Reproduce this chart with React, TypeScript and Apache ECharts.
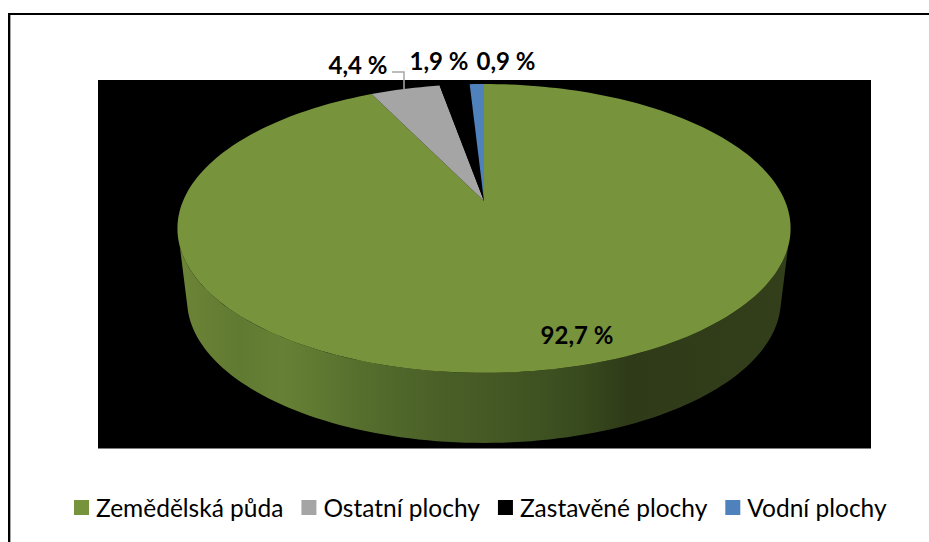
import React, { useEffect, useRef } from "react";
import * as echarts from "echarts";

const categories = ["Zemědělská půda", "Ostatní plochy", "Zastavěné plochy", "Vodní plochy"];
const shares = [92.7, 4.4, 1.9, 0.9];
const sliceColors = ["#77933c", "#a5a5a5", "#000000", "#4f81bd"];

// Layout and projection of the tilted disc (kept apart from the data)
const labelAnchors = [
  [577, 334],
  [358, 64],
  [439, 60],
  [506, 60],
];
const TILT = 0.19;
const topDisc = { cx: 484, cy: 201, a: 301, b: 139.2 };
const baseDisc = { cx: 484, cy: 272.8, a: 291.5, b: 137.8 };
const FONT = "Lato, 'Noto Sans', sans-serif";

const project = (d: typeof topDisc, deg: number) => {
  const r = (deg * Math.PI) / 180;
  const u = Math.sin(r);
  const v = Math.cos(r);
  const w = 1 + TILT * v;
  return [d.cx + (d.a * u) / w, d.cy - (d.b * v) / w];
};

const arc = (d: typeof topDisc, from: number, to: number) => {
  const pts: number[][] = [];
  const n = Math.max(2, Math.ceil(Math.abs(to - from) / 1.5));
  for (let i = 0; i <= n; i++) pts.push(project(d, from + ((to - from) * i) / n));
  return pts;
};

const wallGradient = {
  type: "linear",
  x: 0,
  y: 0,
  x2: 1,
  y2: 0,
  colorStops: [
    { offset: 0, color: "#6b8436" },
    { offset: 0.1, color: "#617a32" },
    { offset: 0.17, color: "#668135" },
    { offset: 0.3, color: "#566e2d" },
    { offset: 0.42, color: "#4a6028" },
    { offset: 0.55, color: "#425623" },
    { offset: 0.66, color: "#384a1e" },
    { offset: 0.74, color: "#2f3a18" },
    { offset: 1, color: "#333e1b" },
  ],
};

const total = shares.reduce((a, b) => a + b, 0);
let running = 0;
const starts = shares.map((s) => {
  const start = running;
  running += s;
  return start;
});

const makeRender = (index: number) => (_params: any, api: any) => {
  const value = api.value(0);
  const start = api.value(1);
  const from = (start / total) * 360;
  const to = ((start + value) / total) * 360;
  const children: any[] = [];

  // front wall, only where the slice faces the viewer
  const wallFromTop = Math.max(from, 108);
  const wallToTop = Math.min(to, 252);
  if (wallToTop > wallFromTop) {
    const wallFromBase = Math.max(from, 105);
    const wallToBase = Math.min(to, 255);
    children.push({
      type: "polygon",
      shape: {
        points: [...arc(topDisc, wallFromTop, wallToTop), ...arc(baseDisc, wallToBase, wallFromBase)],
      },
      style: { fill: wallGradient },
    });
  }

  children.push({
    type: "polygon",
    shape: { points: [[topDisc.cx, topDisc.cy], ...arc(topDisc, from, to)] },
    style: { fill: api.visual("color") },
  });

  if (index === 1) {
    children.push({
      type: "polyline",
      shape: { points: [[392, 72], [404, 72], [404, 89]] },
      style: { stroke: "#a6a6a6", lineWidth: 1.5, fill: "none" },
    });
  }

  children.push({
    type: "text",
    style: {
      text: `${value.toFixed(1).replace(".", ",")} %`,
      x: labelAnchors[index][0],
      y: labelAnchors[index][1],
      align: "center",
      verticalAlign: "middle",
      fill: "#000000",
      font: `bold 24px ${FONT}`,
    },
  });
  return { type: "group", children };
};

export default function App() {
  const ref = useRef<HTMLDivElement>(null);
  useEffect(() => {
    const chart = echarts.init(ref.current!, undefined, { renderer: "svg" });
    chart.setOption({
      animation: false,
      backgroundColor: "#ffffff",
      graphic: [
        { type: "rect", z: 0, shape: { x: 98, y: 80, width: 773, height: 368.5 }, style: { fill: "#000000" } },
        { type: "rect", z: 0, shape: { x: 8, y: 13, width: 921, height: 2 }, style: { fill: "#000000" } },
        { type: "rect", z: 0, shape: { x: 8, y: 13, width: 2, height: 529 }, style: { fill: "#000000" } },
        { type: "rect", z: 0, shape: { x: 10, y: 15, width: 1, height: 527 }, style: { fill: "#a6a6a6" } },
      ],
      legend: {
        left: 69,
        top: 490,
        icon: "rect",
        itemWidth: 15,
        itemHeight: 15,
        itemGap: 18,
        data: categories,
        textStyle: { fontFamily: FONT, fontSize: 24.5, color: "#000000", padding: [0, 0, 0, 2] },
      },
      series: categories.map((name, i) => ({
        type: "custom",
        name,
        coordinateSystem: "none",
        itemStyle: { color: sliceColors[i] },
        renderItem: makeRender(i),
        data: [[shares[i], starts[i]]],
        silent: true,
      })),
    });
    return () => chart.dispose();
  }, []);
  return <div ref={ref} style={{ position: "fixed", left: 0, top: 0, width: 929, height: 542 }} />;
}
